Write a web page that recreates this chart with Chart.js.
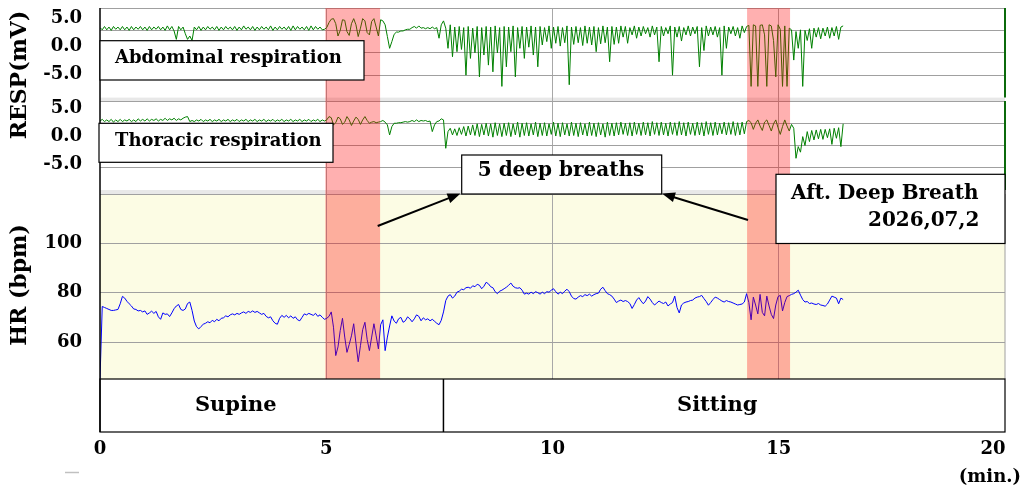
<!DOCTYPE html>
<html>
<head>
<meta charset="utf-8">
<script src="https://cdn.jsdelivr.net/npm/chart.js"></script>
<style>
  html, body { margin: 0; padding: 0; background: #fff; }
  #wrap { position: relative; width: 1031px; height: 495px; }
</style>
</head>
<body>
<div id="wrap"><canvas id="myChart"></canvas></div>
<script>
// one sample roughly every 3 s, all three traces share the same clock
const sampleSeconds = 2.977;

// abdominal respiration (mV)
const abdominalResp = [
  3.3,2.9,3.5,2.9,3.4,2.8,3.5,3.0,3.4,2.9,3.5,2.9,3.4,2.8,3.5,2.9,3.4,3.0,3.5,2.9,
  3.4,2.8,3.5,2.9,3.4,3.0,3.5,2.9,3.4,2.8,3.6,2.9,3.5,2.7,1.2,3.5,2.9,3.4,2.2,1.2,
  1.8,1.0,3.4,2.9,3.5,2.8,3.4,2.9,3.5,3.0,3.4,2.9,3.5,2.8,3.4,2.9,3.5,3.0,3.4,2.9,
  3.5,2.8,3.4,2.9,3.6,3.0,3.4,2.9,3.5,2.8,3.4,2.9,3.5,3.0,3.4,2.9,3.6,2.8,3.4,2.9,
  3.5,3.0,3.4,2.9,3.5,2.8,3.6,2.9,3.5,3.0,3.4,2.9,3.5,2.8,3.6,2.9,3.5,3.0,3.4,2.9,
  3.0,3.3,4.2,4.8,4.9,4.0,1.8,2.8,4.7,4.6,2.6,1.9,4.0,4.9,3.8,1.7,3.2,4.9,4.5,2.4,
  2.0,4.4,4.9,3.4,1.8,4.7,4.5,3.8,1.7,-0.4,0.8,2.1,2.5,2.5,2.7,2.7,2.9,3.0,3.0,3.3,
  3.5,3.2,3.6,3.2,3.3,3.1,3.3,3.1,3.4,3.1,3.3,1.4,3.8,4.5,3.2,-0.4,3.8,-1.9,3.4,-1.0,
  3.5,-0.6,3.3,-5.2,3.5,-2.2,3.2,-1.2,3.5,-5.5,3.3,-1.6,3.5,-3.4,3.4,-4.6,3.6,-1.2,3.3,-7.2,
  3.5,-3.7,3.4,-1.0,3.6,-5.5,3.3,-0.4,3.5,-2.2,3.4,-0.2,3.6,-1.6,3.4,-3.7,3.5,0.2,3.3,0.8,
  3.6,-0.4,3.4,0.5,3.5,0.0,3.3,0.6,3.6,-6.9,3.4,0.3,3.5,0.6,3.3,0.1,3.6,0.5,3.4,0.2,
  3.5,-1.0,3.3,0.4,3.6,0.6,3.4,-2.8,3.5,0.3,3.4,0.5,3.6,1.6,3.5,0.5,3.3,2.0,3.6,1.4,
  3.4,1.8,3.5,2.2,3.3,1.6,3.6,2.0,3.4,-2.8,3.5,1.8,3.3,2.2,3.6,-5.2,3.4,1.6,3.5,0.9,
  3.3,2.0,3.6,1.8,3.4,2.2,3.5,-3.7,3.3,-0.8,3.6,1.8,3.4,2.0,3.5,1.6,3.3,-5.2,3.6,-0.4,
  3.4,2.2,3.5,1.8,3.3,1.4,3.6,2.4,3.5,3.7,-7.2,3.8,3.6,-7.2,3.7,3.8,2.0,-7.2,3.8,3.6,
  1.0,-5.5,3.8,3.0,-7.2,3.6,-7.2,3.2,2.9,-2.5,2.6,-0.4,2.9,-7.2,2.8,1.0,3.1,-0.4,3.2,1.6,
  3.3,1.3,3.2,1.8,3.4,1.4,3.3,1.8,3.5,1.2,3.4,3.6
];

// thoracic respiration (mV)
const thoracicResp = [
  2.8,3.1,2.7,3.0,2.7,3.1,2.6,3.0,2.7,3.1,2.7,3.0,2.8,3.1,2.7,3.0,2.7,3.2,2.8,3.1,
  2.8,3.2,2.8,3.1,2.9,3.2,2.8,3.1,2.9,3.3,2.9,3.2,3.0,3.3,2.9,3.2,3.0,3.3,3.5,3.6,
  2.7,2.9,2.7,3.0,2.8,3.1,2.7,3.0,2.8,3.1,2.7,3.0,2.8,3.1,2.7,3.0,2.8,3.1,2.7,3.0,
  2.8,3.1,2.7,3.0,2.8,3.1,2.7,3.0,2.8,3.1,2.7,3.0,2.8,3.1,2.7,3.0,2.8,3.1,2.7,3.0,
  2.8,3.1,2.7,3.0,2.8,3.1,2.7,3.0,2.8,3.1,2.7,3.0,2.8,3.1,2.7,3.0,2.8,3.1,2.7,3.0,
  2.8,3.0,3.6,3.4,2.1,2.5,3.5,3.2,2.2,2.6,3.6,3.0,2.0,2.8,3.5,3.1,2.2,3.0,3.6,2.9,
  2.4,2.6,2.7,2.5,2.6,2.7,2.9,2.6,2.1,0.3,1.8,2.4,2.4,2.5,2.5,2.6,2.7,2.6,2.7,2.9,
  2.7,3.0,2.7,2.9,2.8,2.9,2.7,2.8,0.9,2.1,2.7,2.8,3.2,3.0,-2.1,0.9,1.5,0.3,1.4,0.2,
  1.6,0.4,1.8,0.1,1.9,0.3,2.1,0.2,2.3,0.0,2.2,0.3,2.4,0.1,2.3,-0.1,2.5,0.2,2.3,0.0,
  2.4,0.2,2.5,0.0,2.3,0.3,2.6,-0.1,2.4,0.2,2.5,0.1,2.3,0.3,2.6,0.0,2.4,0.2,2.5,0.1,
  2.3,0.4,2.6,0.1,2.4,0.0,2.5,0.3,2.3,0.1,2.6,0.2,2.4,0.0,2.5,0.3,2.3,0.1,2.6,0.2,
  2.4,0.0,2.5,0.3,2.3,-0.1,2.6,0.2,2.4,0.1,2.5,0.3,2.6,0.4,2.4,0.2,2.5,0.1,2.6,0.4,
  2.4,0.2,2.6,0.3,2.5,0.1,2.7,0.4,2.5,0.2,2.6,0.3,2.4,0.1,2.6,0.4,2.5,0.2,2.7,0.3,
  2.5,0.1,2.6,0.4,2.4,0.2,2.6,0.3,2.5,0.1,2.7,0.4,2.5,0.2,2.6,0.3,2.4,0.5,2.6,0.3,
  2.5,0.4,2.7,0.2,2.5,0.3,2.6,0.5,2.7,2.9,2.5,1.3,2.4,3.0,1.9,1.1,2.6,3.0,2.0,1.0,
  2.3,3.0,1.6,0.4,1.8,3.0,1.9,1.0,2.2,1.5,-3.9,-1.8,-2.8,0.0,-1.6,0.9,-0.9,1.1,-0.6,1.2,
  -0.4,1.3,-0.5,1.3,-0.2,1.4,-1.4,1.5,-0.3,1.6,-1.8,2.3
];

// heart rate (bpm)
const heartRate = [
  45,74.4,74,73.6,73.2,72.8,72.8,73,73.2,75.5,78.5,77.8,76.5,75.5,74.6,73.4,73.2,72.6,72.8,72.2,
  72.6,71.2,71.8,72.5,71.6,72.4,70.2,69.2,71.8,71.2,71.4,70.3,71.8,73.5,74.6,75.2,73.2,72.8,73.4,75.6,
  76.2,72.8,68.5,66.2,65.3,66.3,67.2,67.6,68.2,67.8,68.8,68.2,69.2,68.6,69.6,69.8,70.6,70.2,71,71.4,
  71,71.6,71.2,71.8,72.2,71.6,72.4,72,72.6,72,72.4,71.8,71.2,71.6,70.4,69.8,70.2,68.6,67.6,67.2,
  69.6,70.8,70,70.8,69.8,70.6,69.6,70.2,69,68.6,70,71.4,71,71.6,71.2,70.8,71.6,70.4,71,70,
  69.2,69.6,70.4,72.2,66,54.5,58,64.6,69.6,62,55.8,59,62.5,67.4,59.5,52,58.5,65,68,61,
  56.5,62,67.4,62.5,57.2,67,69,56.5,62,66.5,70.6,68.5,67.6,69.4,70,68,68.6,70.2,69.4,68.2,
  69.4,71,70.4,68.6,69.8,69,69.4,68.6,69.2,68.4,67.6,67,68.8,72.2,76.8,78.6,79.2,77.8,78.6,80.2,
  80.6,81.4,81.2,82,82.2,81.8,82.8,82.4,83.4,83,81.6,82.6,84.2,83.6,82.4,82,80.4,79.6,80.6,81,
  81.6,82.2,83,83.9,82.6,82,81.8,82,81,79.4,79.8,79.4,80.2,79.6,80.4,80,79.4,80.2,79.6,80.4,
  80.2,81,81.6,80.4,79.4,80.2,79.6,80.6,81.4,80.4,78.6,77.6,77.4,78.2,78.8,78.4,79.2,78.8,79.4,78.6,
  79.2,79.6,79.8,81.4,82.2,80.8,79.6,79.2,78.6,77.4,76,76.6,77,76.4,76.8,76.4,75.6,73.6,75.2,77,
  78,76.6,75.5,76.6,78.4,77.4,76,75,75.8,76.6,76,75.6,76.2,74.6,75.4,76,78.6,74,71.8,75,
  75.8,76.2,76.4,76.8,77,77.8,78.2,78.4,78.9,77.6,76.4,74.9,76,77.2,78.2,77.8,77.2,76.6,76.2,76.8,
  76.4,76.2,75.8,75.4,75,75.2,75.4,76.2,79.6,76,69,78.2,75,71.4,79.3,72,70.6,78.6,74.6,71.2,
  69.5,75,78.4,78.9,72.6,76,78.4,78.8,79.3,79.6,80.2,81,79,77.2,76.2,76.4,75.6,75.8,75.4,75.2,
  75.6,75,74.8,74.5,75.4,77,78.6,78.2,77.8,75.5,77.8,77.2
];

const xTicks = [0, 5, 10, 15, 20];
const respTicks = [5, 0, -5];
const hrTicks = [60, 80, 100];

// deep breathing periods (min)
const deepBreathBands = [[4.98, 6.19], [14.30, 15.25]];

// posture segments (min)
const postureNames = ["Supine", "Sitting"];
const postureEdges = [0, 7.59, 20];
const postureLabelAt = [3.0, 13.64];

const serif = "'DejaVu Serif'";
const font = (size) => ({ family: serif, size, weight: "bold" });
const cssFont = (size) => `bold ${size}px ${serif}`;

const toPoints = (arr) => arr.map((v, i) => ({ x: i * sampleSeconds / 60, y: v }));

// every y axis gets the same 100px column and no label overhang
function fixedWidth(scale) {
  scale.width = 100;
  scale.paddingTop = 0;
  scale.paddingBottom = 0;
}

function panelAxis(min, max, gridAt, labelAt, fmt, stackWeight, weight) {
  const labels = new Set(labelAt);
  const lines = new Set(gridAt);
  return {
    type: "linear", position: "left", stack: "panels", stackWeight, weight, min, max,
    border: { display: false },
    grid: {
      drawTicks: false,
      color: (c) => (lines.has(c.tick.value) ? "#a0a0a0" : "transparent")
    },
    ticks: {
      autoSkip: false, padding: 18, color: "#000", font: font(18),
      callback: (v) => (labels.has(v) ? fmt(v) : "")
    },
    afterBuildTicks: (s) => {
      s.ticks = [...new Set([...gridAt, ...labelAt])].sort((a, b) => a - b).map((value) => ({ value }));
    },
    afterFit: fixedWidth
  };
}

function spacerAxis(stackWeight, weight) {
  return {
    type: "linear", position: "left", stack: "panels", stackWeight, weight, min: 0, max: 1,
    border: { display: false }, grid: { display: false }, ticks: { display: false },
    afterFit: fixedWidth
  };
}

function box(ctx, l, t, r, b) {
  ctx.fillStyle = "#fff";
  ctx.fillRect(l, t, r - l, b - t);
  ctx.strokeStyle = "#000";
  ctx.lineWidth = 1.2;
  ctx.strokeRect(l, t, r - l, b - t);
}

function arrow(ctx, x1, y1, x2, y2) {
  const a = Math.atan2(y2 - y1, x2 - x1);
  const len = 13, half = 5;
  const c = Math.cos(a), s = Math.sin(a);
  ctx.strokeStyle = "#000";
  ctx.fillStyle = "#000";
  ctx.lineWidth = 2;
  ctx.beginPath();
  ctx.moveTo(x1, y1);
  ctx.lineTo(x2 - c * len * 0.7, y2 - s * len * 0.7);
  ctx.stroke();
  ctx.beginPath();
  ctx.moveTo(x2, y2);
  ctx.lineTo(x2 - c * len + s * half, y2 - s * len - c * half);
  ctx.lineTo(x2 - c * len - s * half, y2 - s * len + c * half);
  ctx.closePath();
  ctx.fill();
}

const decorations = {
  id: "decorations",
  beforeDraw(chart) {
    const { ctx, chartArea: a, scales } = chart;
    ctx.save();
    ctx.fillStyle = "#e8e8e8";
    for (const id of ["gap1", "gap2"]) {
      const s = scales[id];
      ctx.fillRect(a.left, s.top, a.width, s.bottom - s.top);
    }
    ctx.fillStyle = "rgb(252,252,228)";
    ctx.fillRect(a.left, scales.yH.top, a.width, scales.yH.bottom - scales.yH.top);
    ctx.restore();
  },
  afterDatasetsDraw(chart) {
    const { ctx, chartArea: a, scales } = chart;
    const { x, yA, yT, yH, yP } = scales;
    ctx.save();

    // deep breath bands, laid over the traces
    ctx.fillStyle = "rgba(255,0,0,0.31)";
    for (const [from, to] of deepBreathBands) {
      const l = x.getPixelForValue(from), r = x.getPixelForValue(to);
      ctx.fillRect(l, yA.top, r - l, yH.bottom - yA.top);
    }

    // panel borders
    ctx.lineWidth = 2;
    ctx.strokeStyle = "#0b6a0b";
    ctx.beginPath();
    ctx.moveTo(a.right, yA.top); ctx.lineTo(a.right, yA.bottom);
    ctx.moveTo(a.right, yT.top); ctx.lineTo(a.right, yT.bottom);
    ctx.stroke();
    ctx.lineWidth = 1;
    ctx.strokeStyle = "#a0a0a0";
    ctx.beginPath();
    ctx.moveTo(a.right, yH.top); ctx.lineTo(a.right, yH.bottom);
    ctx.stroke();

    // posture strip
    box(ctx, a.left, yP.top, a.right, yP.bottom);
    ctx.lineWidth = 1.5;
    ctx.beginPath();
    for (let i = 1; i < postureEdges.length - 1; i++) {
      const px = x.getPixelForValue(postureEdges[i]);
      ctx.moveTo(px, yP.top); ctx.lineTo(px, yP.bottom);
    }
    ctx.stroke();
    ctx.fillStyle = "#000";
    ctx.font = cssFont(21);
    ctx.textAlign = "center";
    ctx.textBaseline = "middle";
    postureNames.forEach((name, i) => {
      ctx.fillText(name, x.getPixelForValue(postureLabelAt[i]), (yP.top + yP.bottom) / 2);
    });

    // left axis
    ctx.strokeStyle = "#000";
    ctx.lineWidth = 1.5;
    ctx.beginPath();
    ctx.moveTo(a.left, yA.top); ctx.lineTo(a.left, yP.bottom);
    ctx.stroke();

    // trace name boxes
    box(ctx, 100, 40.7, 364, 80);
    box(ctx, 99, 123.3, 333, 162.3);
    ctx.fillStyle = "#000";
    ctx.font = cssFont(18);
    ctx.textAlign = "left";
    ctx.fillText("Abdominal respiration", 115, 58.5);
    ctx.fillText("Thoracic respiration", 115, 141.5);

    // callouts
    box(ctx, 461.7, 155, 661.7, 194);
    box(ctx, 776, 174.3, 1005, 243.5);
    ctx.fillStyle = "#000";
    ctx.font = cssFont(20);
    ctx.textAlign = "center";
    ctx.fillText("5 deep breaths", 561, 171);
    ctx.textAlign = "left";
    ctx.fillText("Aft. Deep Breath", 791, 193.5);
    ctx.fillText("2026,07,2", 868, 220.5);
    arrow(ctx, 377.7, 226, 460.5, 193.5);
    arrow(ctx, 748, 220, 662, 193.5);

    // axis titles
    ctx.fillStyle = "#000";
    ctx.font = cssFont(22);
    ctx.textAlign = "center";
    ctx.textBaseline = "middle";
    ctx.save();
    ctx.translate(20.5, 75);
    ctx.rotate(-Math.PI / 2);
    ctx.fillText("RESP(mV)", 0, 0);
    ctx.restore();
    ctx.save();
    ctx.translate(20, 285);
    ctx.rotate(-Math.PI / 2);
    ctx.fillText("HR (bpm)", 0, 0);
    ctx.restore();

    // last x label sits inside the right edge
    ctx.font = cssFont(18);
    ctx.textAlign = "center";
    ctx.fillText(String(xTicks[xTicks.length - 1]), x.getPixelForValue(xTicks[xTicks.length - 1]) - 12, 449);
    ctx.textAlign = "right";
    ctx.fillText("(min.)", 1021, 477);

    ctx.strokeStyle = "#c0c0c0";
    ctx.lineWidth = 1.5;
    ctx.beginPath();
    ctx.moveTo(65, 472.5); ctx.lineTo(79, 472.5);
    ctx.stroke();

    ctx.restore();
  }
};

const lineStyle = { borderWidth: 1, pointRadius: 0, tension: 0, fill: false };

new Chart(document.getElementById("myChart"), {
  type: "line",
  data: {
    datasets: [
      { ...lineStyle, label: "Abdominal respiration", data: toPoints(abdominalResp), borderColor: "rgb(0,128,0)", yAxisID: "yA" },
      { ...lineStyle, label: "Thoracic respiration", data: toPoints(thoracicResp), borderColor: "rgb(0,128,0)", yAxisID: "yT" },
      { ...lineStyle, label: "HR", data: toPoints(heartRate), borderColor: "rgb(0,0,255)", yAxisID: "yH" }
    ]
  },
  options: {
    responsive: true,
    maintainAspectRatio: false,
    animation: false,
    parsing: false,
    layout: { padding: { top: 8, right: 26, left: 0, bottom: 0 } },
    plugins: { legend: { display: false }, tooltip: { enabled: false } },
    scales: {
      x: {
        type: "linear", position: "bottom", min: 0, max: 20,
        border: { display: false },
        grid: {
          drawTicks: false,
          color: (c) => ([5, 10, 15].includes(c.tick.value) ? "#a8a8a8" : "transparent")
        },
        ticks: {
          padding: 7, color: "#000", font: font(18), autoSkip: false, maxRotation: 0,
          callback: (v) => (v === xTicks[xTicks.length - 1] ? "" : String(v))
        },
        afterBuildTicks: (s) => { s.ticks = xTicks.map((value) => ({ value })); },
        afterFit: (s) => { s.height = 63; s.paddingLeft = 0; s.paddingRight = 0; }
      },
      yA: panelAxis(-9.2, 6.8, [6.8, 2.8, -1.2, -5.2], respTicks, (v) => v.toFixed(1), 89.6, 6),
      gap1: spacerAxis(3.4, 5),
      yT: panelAxis(-9.6, 6.4, [6.4, 2.4, -1.6, -5.6], respTicks, (v) => v.toFixed(1), 89, 4),
      gap2: spacerAxis(4, 3),
      yH: panelAxis(45, 120, [120, 100, 80, 60], hrTicks, (v) => String(v), 185, 2),
      yP: spacerAxis(53, 1)
    }
  },
  plugins: [decorations]
});
</script>
</body>
</html>
